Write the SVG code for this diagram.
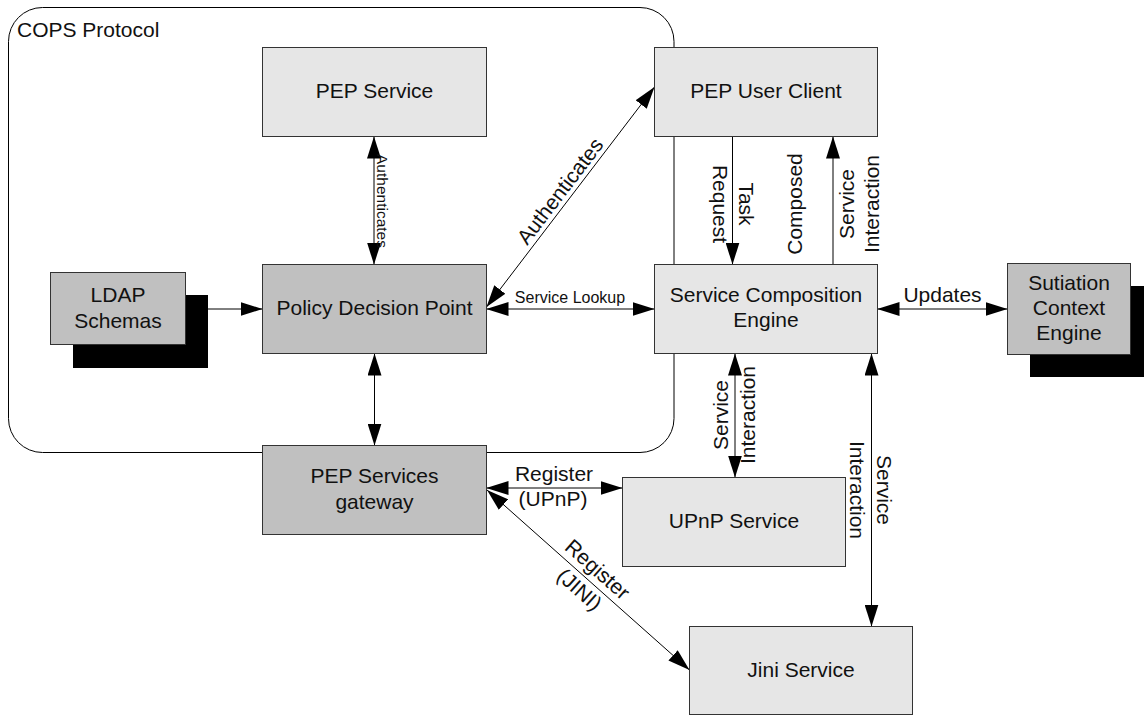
<svg xmlns="http://www.w3.org/2000/svg" width="1144" height="715" viewBox="0 0 1144 715">
  <style>
    text { font-family: "Liberation Sans", Arial, sans-serif; fill: #111; }
    .lbl { font-size: 21px; text-anchor: middle; }
    .sm { font-size: 15.5px; text-anchor: middle; }
    .light { fill: #e6e6e6; stroke: #333; stroke-width: 1; }
    .dark { fill: #c0c0c0; stroke: #333; stroke-width: 1; }
    .shadow { fill: #000; }
    .conn { fill: none; stroke: #000; stroke-width: 1; }
    .arrow-end { marker-end: url(#head); }
    .arrow-both { marker-start: url(#head); marker-end: url(#head); }
  </style>
  <defs>
    <marker id="head" markerUnits="userSpaceOnUse" markerWidth="22" markerHeight="14" viewBox="0 0 22 14" refX="22" refY="7" orient="auto-start-reverse">
      <path d="M0,0 L22,7 L0,14 z" fill="#000"/>
    </marker>
  </defs>

  <rect width="1144" height="715" fill="#fff"/>

  <!-- COPS protocol boundary -->
  <g id="cops-boundary">
    <rect x="8.5" y="7.5" width="665.5" height="445" rx="34" ry="34" fill="none" stroke="#000" stroke-width="1"/>
    <text x="17" y="37" style="font-size:21px">COPS Protocol</text>
  </g>

  <!-- connectors -->
  <g id="connectors">
    <path class="conn arrow-both" d="M374,136.5 L374,264.5"/>
    <path class="conn arrow-end" d="M208,309 L262.5,309"/>
    <path class="conn arrow-both" d="M486.5,307 L654.5,87"/>
    <path class="conn arrow-both" d="M486.5,309 L654.5,309"/>
    <path class="conn arrow-end" d="M732.5,136.5 L732.5,264.5"/>
    <path class="conn arrow-end" d="M833,269 L833,136.5"/>
    <path class="conn arrow-both" d="M877.5,309 L1007.5,309"/>
    <path class="conn arrow-both" d="M374.5,353.5 L374.5,445.5"/>
    <path class="conn arrow-both" d="M735,353.5 L735,477.5"/>
    <path class="conn arrow-both" d="M871.5,353.5 L871.5,626.5"/>
    <path class="conn arrow-both" d="M486.5,488 L622.5,488"/>
    <path class="conn arrow-both" d="M487,490 L689.5,670"/>

    <text class="sm" transform="translate(377,201) rotate(90)" x="0" y="0">Authenticates</text>
    <text class="lbl" transform="translate(569,198) rotate(-52.6)" x="0" y="-4">Authenticates</text>
    <text x="570" y="303" style="font-size:16px;text-anchor:middle">Service Lookup</text>
    <g transform="translate(732,204) rotate(90)">
      <text class="lbl" x="0" y="-7">Task</text>
      <text class="lbl" x="0" y="19">Request</text>
    </g>
    <g transform="translate(833,204) rotate(-90)">
      <text class="lbl" x="0" y="-31">Composed</text>
      <text class="lbl" x="0" y="21">Service</text>
      <text class="lbl" x="0" y="46">Interaction</text>
    </g>
    <text class="lbl" x="942.5" y="301.5">Updates</text>
    <g transform="translate(735,415) rotate(-90)">
      <text class="lbl" x="0" y="-7">Service</text>
      <text class="lbl" x="0" y="20">Interaction</text>
    </g>
    <g transform="translate(871,490) rotate(90)">
      <text class="lbl" x="0" y="-6">Service</text>
      <text class="lbl" x="0" y="21">Interaction</text>
    </g>
    <text class="lbl" x="554" y="481">Register</text>
    <text class="lbl" x="553" y="506">(UPnP)</text>
    <g transform="translate(588,580) rotate(41.7)">
      <text class="lbl" x="0" y="-7">Register</text>
      <text class="lbl" x="0" y="20">(JINI)</text>
    </g>
  </g>

  <!-- nodes -->
  <g id="pep-service">
    <rect class="light" x="262.5" y="47.5" width="224" height="89"/>
    <text class="lbl" x="374.5" y="98">PEP Service</text>
  </g>
  <g id="pep-user-client">
    <rect class="light" x="654.5" y="47.5" width="223" height="89"/>
    <text class="lbl" x="766" y="97.5">PEP User Client</text>
  </g>
  <g id="ldap-schemas">
    <rect class="shadow" x="73" y="295" width="135" height="73"/>
    <rect class="dark" x="50.5" y="272.5" width="135" height="72"/>
    <text class="lbl" x="118" y="302">LDAP</text>
    <text class="lbl" x="118" y="327.5">Schemas</text>
  </g>
  <g id="policy-decision-point">
    <rect class="dark" x="262.5" y="264.5" width="224" height="89"/>
    <text class="lbl" x="374.5" y="315">Policy Decision Point</text>
  </g>
  <g id="service-composition-engine">
    <rect class="light" x="654.5" y="264.5" width="223" height="89"/>
    <text class="lbl" x="766" y="302">Service Composition</text>
    <text class="lbl" x="766" y="327">Engine</text>
  </g>
  <g id="situation-context-engine">
    <rect class="shadow" x="1030" y="286" width="114" height="91"/>
    <rect class="dark" x="1007.5" y="263.5" width="123" height="91"/>
    <text class="lbl" x="1069" y="290">Sutiation</text>
    <text class="lbl" x="1069" y="315">Context</text>
    <text class="lbl" x="1069" y="340">Engine</text>
  </g>
  <g id="pep-services-gateway">
    <rect class="dark" x="262.5" y="445.5" width="224" height="89"/>
    <text class="lbl" x="374.5" y="483">PEP Services</text>
    <text class="lbl" x="374.5" y="509">gateway</text>
  </g>
  <g id="upnp-service">
    <rect class="light" x="622.5" y="477.5" width="223" height="89"/>
    <text class="lbl" x="734" y="528">UPnP Service</text>
  </g>
  <g id="jini-service">
    <rect class="light" x="689.5" y="626.5" width="223" height="88"/>
    <text class="lbl" x="801" y="677">Jini Service</text>
  </g>
</svg>
